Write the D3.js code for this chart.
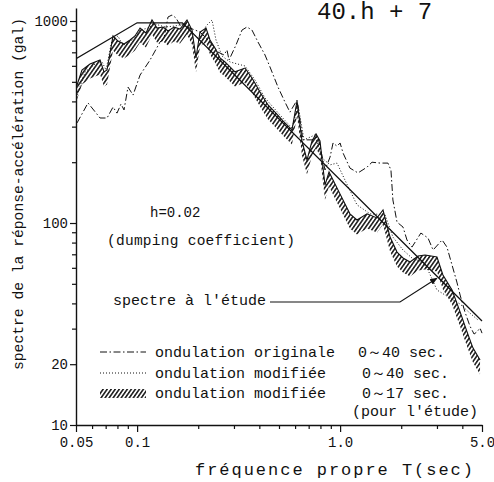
<!DOCTYPE html>
<html><head><meta charset="utf-8">
<script src="https://cdn.jsdelivr.net/npm/d3@7"></script>
<style>
body{margin:0;background:#fff}
svg{display:block}
text{font-family:"Liberation Mono","DejaVu Sans Mono",monospace;fill:#111}
</style>
</head><body>
<script>
// ---- data (T in sec, Sa in gal) ----
const spectreT  = [0.05, 0.1, 0.167, 5.0];
const spectreSa = [650, 980, 980, 32.7];

const origT  = [0.0506,0.0573,0.0657,0.0711,0.0761,0.0796,0.0833,0.0862,0.0902,0.0955,0.1034,0.1158,0.1297,0.1357,0.142,0.1486,0.1555,0.1627,0.1822,0.2041,0.2286,0.2503,0.2679,0.2772,0.2836,0.307,0.3286,0.3478,0.368,0.394,0.4266,0.4515,0.4943,0.535,0.566,0.6135,0.656,0.727,0.778,0.8425,0.892,0.923,0.966,1.0,1.034,1.118,1.225,1.357,1.436,1.574,1.72,1.78,1.82,1.907,2.041,2.135,2.26,2.50,2.71,2.87,3.18,3.36,3.56,3.76,3.90,4.12,4.36,4.57,4.72,4.89,5.0];
const origSa = [313,393,331,331,375,350,388,363,471,430,540,641,787,824,1047,1071,1035,955,923,882,787,702,679,719,641,761,902,934,902,787,679,592,471,397,354,406,258,258,267,183,212,249,240,249,222,187,177,189,200,198,198,183,130,101,95.5,82.4,76,89.2,84.3,73.5,82.4,76,61.9,51,44,36.3,30.9,28.2,28.9,30.2,28.5];

const modT  = [0.0506,0.0554,0.062,0.0672,0.0703,0.0752,0.0805,0.0833,0.0872,0.0944,0.1034,0.1132,0.1225,0.1372,0.1537,0.172,0.1864,0.2041,0.2185,0.2339,0.2447,0.262,0.2868,0.340,0.381,0.4266,0.5064,0.5795,0.6205,0.664,0.752,0.8145,0.892,0.966,1.057,1.211,1.405,1.664,1.82,2.041,2.26,2.53,2.71,3.0,3.48,3.9,4.36,4.78];
const modSa = [430,559,612,627,572,805,843,787,761,805,902,923,967,934,945,967,882,805,945,1012,805,671,627,599,510,416,342,295,384,258,273,210,194,198,163,123,111,110,85.2,73.5,67.1,64.1,58.5,46.6,42.5,39.7,35.8,33.1];

const etudeT  = [0.0506,0.0535,0.0586,0.0657,0.0687,0.0711,0.0761,0.0805,0.0862,0.0923,0.0976,0.1034,0.1106,0.1184,0.1253,0.1342,0.142,0.152,0.1627,0.1761,0.1864,0.195,0.2041,0.2185,0.2286,0.2419,0.256,0.271,0.3035,0.340,0.368,0.403,0.4415,0.483,0.523,0.5795,0.6135,0.649,0.687,0.727,0.761,0.796,0.8425,0.882,1.0,1.118,1.211,1.357,1.52,1.627,1.762,1.907,2.041,2.21,2.42,2.62,3.0,3.21,3.56,3.90,4.22,4.51,4.89];
const etudeSa = [482,572,612,641,560,572,843,796,769,805,843,923,872,1012,923,934,892,934,913,1012,902,656,882,923,805,735,656,627,560,585,522,445,384,350,320,289,402,255,205,255,276,255,154,179,139,111,103.5,111,106,116,85.2,71.8,67.1,64.1,68.7,69.4,67.9,55.3,46.6,36.3,28.9,24.1,21.0];

const xTicks = [0.05, 0.1, 1.0, 5.0];
const xTickLabels = ["0.05", "0.1", "1.0", "5.0"];
const xMinor = [0.06,0.07,0.08,0.09,0.2,0.3,0.4,0.5,0.6,0.7,0.8,0.9,2,3,4];
const yTicks = [10, 20, 100, 1000];
const yTickLabels = ["10", "20", "100", "1000"];
const yMinor = [30,40,50,60,70,80,90,200,300,400,500,600,700,800,900];

const legendLabels = ["ondulation originale", "ondulation modifiée", "ondulation modifiée"];
const legendRanges = ["0～40 sec.", "0～40 sec.", "0～17 sec."];

// ---- layout ----
const W = 494, H = 482;
const svg = d3.select("body").append("svg").attr("width", W).attr("height", H);
const x = d3.scaleLog().domain([0.05, 5.0]).range([76, 482]);
const y = d3.scaleLog().domain([10, 1160]).range([425, 8]);

const defs = svg.append("defs");
const pat = defs.append("pattern").attr("id", "hatch").attr("patternUnits", "userSpaceOnUse")
  .attr("width", 3.3).attr("height", 10).attr("patternTransform", "rotate(35)");
pat.append("line").attr("x1", 0.8).attr("y1", 0).attr("x2", 0.8).attr("y2", 10)
  .attr("stroke", "#111").attr("stroke-width", 1.5);
defs.append("clipPath").attr("id", "plot").append("rect")
  .attr("x", 76).attr("y", 0).attr("width", 410).attr("height", 425);
defs.append("marker").attr("id", "arrow").attr("viewBox", "0 0 10 10").attr("refX", 9).attr("refY", 5)
  .attr("markerWidth", 7).attr("markerHeight", 7).attr("orient", "auto")
  .append("path").attr("d", "M0,1 L10,5 L0,9 z").attr("fill", "#111");

const zip = (T, S) => T.map((t, i) => ({T: t, Sa: S[i]}));
const g = svg.append("g").attr("clip-path", "url(#plot)");
const band = 1.18;

// hatched band
const etude = zip(etudeT, etudeSa);
g.append("path").datum(etude)
  .attr("d", d3.area().x(d => x(d.T)).y0(d => y(d.Sa / band)).y1(d => y(d.Sa)))
  .attr("fill", "url(#hatch)");
g.append("path").datum(etude)
  .attr("d", d3.line().x(d => x(d.T)).y(d => y(d.Sa)))
  .attr("fill", "none").attr("stroke", "#111").attr("stroke-width", 1.1);

const line = d3.line().x(d => x(d.T)).y(d => y(d.Sa));
g.append("path").datum(zip(modT, modSa)).attr("d", line)
  .attr("fill", "none").attr("stroke", "#111").attr("stroke-width", 1).attr("stroke-dasharray", "1,2");
g.append("path").datum(zip(origT, origSa)).attr("d", line)
  .attr("fill", "none").attr("stroke", "#111").attr("stroke-width", 1).attr("stroke-dasharray", "7,2.5,1.5,2.5");
g.append("path").datum(zip(spectreT, spectreSa)).attr("d", line)
  .attr("fill", "none").attr("stroke", "#111").attr("stroke-width", 1.3);

// axes
const fmtY = d => yTickLabels[yTicks.indexOf(d)];
const fmtX = d => xTickLabels[xTicks.indexOf(d)];
svg.append("g").attr("transform", "translate(76,0)")
  .call(d3.axisLeft(y).tickValues(yTicks).tickFormat(fmtY).tickSize(6).tickSizeOuter(0).tickPadding(2));
svg.append("g").attr("transform", "translate(76,0)")
  .call(d3.axisLeft(y).tickValues(yMinor).tickFormat("").tickSize(4).tickSizeOuter(0))
  .select(".domain").remove();
svg.append("g").attr("transform", "translate(0,425)")
  .call(d3.axisBottom(x).tickValues(xTicks).tickFormat(fmtX).tickSize(7).tickSizeOuter(0).tickPadding(5));
svg.append("g").attr("transform", "translate(0,425)")
  .call(d3.axisBottom(x).tickValues(xMinor).tickFormat("").tickSize(4).tickSizeOuter(0))
  .select(".domain").remove();
svg.selectAll(".domain").attr("stroke", "#111").attr("stroke-width", 1.4);
svg.selectAll(".tick line").attr("stroke", "#111").attr("stroke-width", 1.2);
svg.selectAll(".tick text").attr("font-family", "Liberation Mono, monospace").attr("font-size", 14).attr("fill", "#111");

// title (top of the page)
svg.append("text").attr("x", 317).attr("y", 19).attr("font-size", 24).text("40.h + 7");

// axis labels
svg.append("text").attr("transform", "translate(23,194) rotate(-90)").attr("text-anchor", "middle")
  .attr("font-size", 14.5).attr("textLength", 352).attr("lengthAdjust", "spacingAndGlyphs")
  .text("spectre de la réponse-accélération (gal)");
svg.append("text").attr("x", 195).attr("y", 475).attr("font-size", 17)
  .attr("textLength", 278).attr("lengthAdjust", "spacing")
  .text("fréquence propre   T(sec)");

// annotations
svg.append("text").attr("x", 150).attr("y", 217).attr("font-size", 14).text("h=0.02");
svg.append("text").attr("x", 107).attr("y", 245).attr("font-size", 14.5)
  .attr("textLength", 188).attr("lengthAdjust", "spacing").text("(dumping coefficient)");
svg.append("text").attr("x", 113).attr("y", 305).attr("font-size", 15).text("spectre à l'étude");
const tipT = 3.0, tipSa = spectreSa[2] * spectreT[2] / tipT;
svg.append("path")
  .attr("d", `M270,302 L400,302 L${x(tipT)},${y(tipSa) + 2}`)
  .attr("fill", "none").attr("stroke", "#111").attr("stroke-width", 1.1).attr("marker-end", "url(#arrow)");

// legend
const rows = [352, 373, 393];
svg.append("line").attr("x1", 100).attr("x2", 146).attr("y1", rows[0]).attr("y2", rows[0])
  .attr("stroke", "#111").attr("stroke-width", 1).attr("stroke-dasharray", "7,2.5,1.5,2.5");
svg.append("line").attr("x1", 100).attr("x2", 146).attr("y1", rows[1]).attr("y2", rows[1])
  .attr("stroke", "#111").attr("stroke-width", 1).attr("stroke-dasharray", "1,2");
svg.append("rect").attr("x", 100).attr("y", rows[2] - 4).attr("width", 46).attr("height", 9)
  .attr("fill", "url(#hatch)");
legendLabels.forEach((t, i) => {
  svg.append("text").attr("x", 155).attr("y", rows[i] + 5).attr("font-size", 15).text(t);
  svg.append("text").attr("x", i === 0 ? 358 : 362).attr("y", rows[i] + 5).attr("font-size", 15).text(legendRanges[i]);
});
svg.append("text").attr("x", 352).attr("y", 416).attr("font-size", 15).text("(pour l'étude)");
</script>
</body></html>
